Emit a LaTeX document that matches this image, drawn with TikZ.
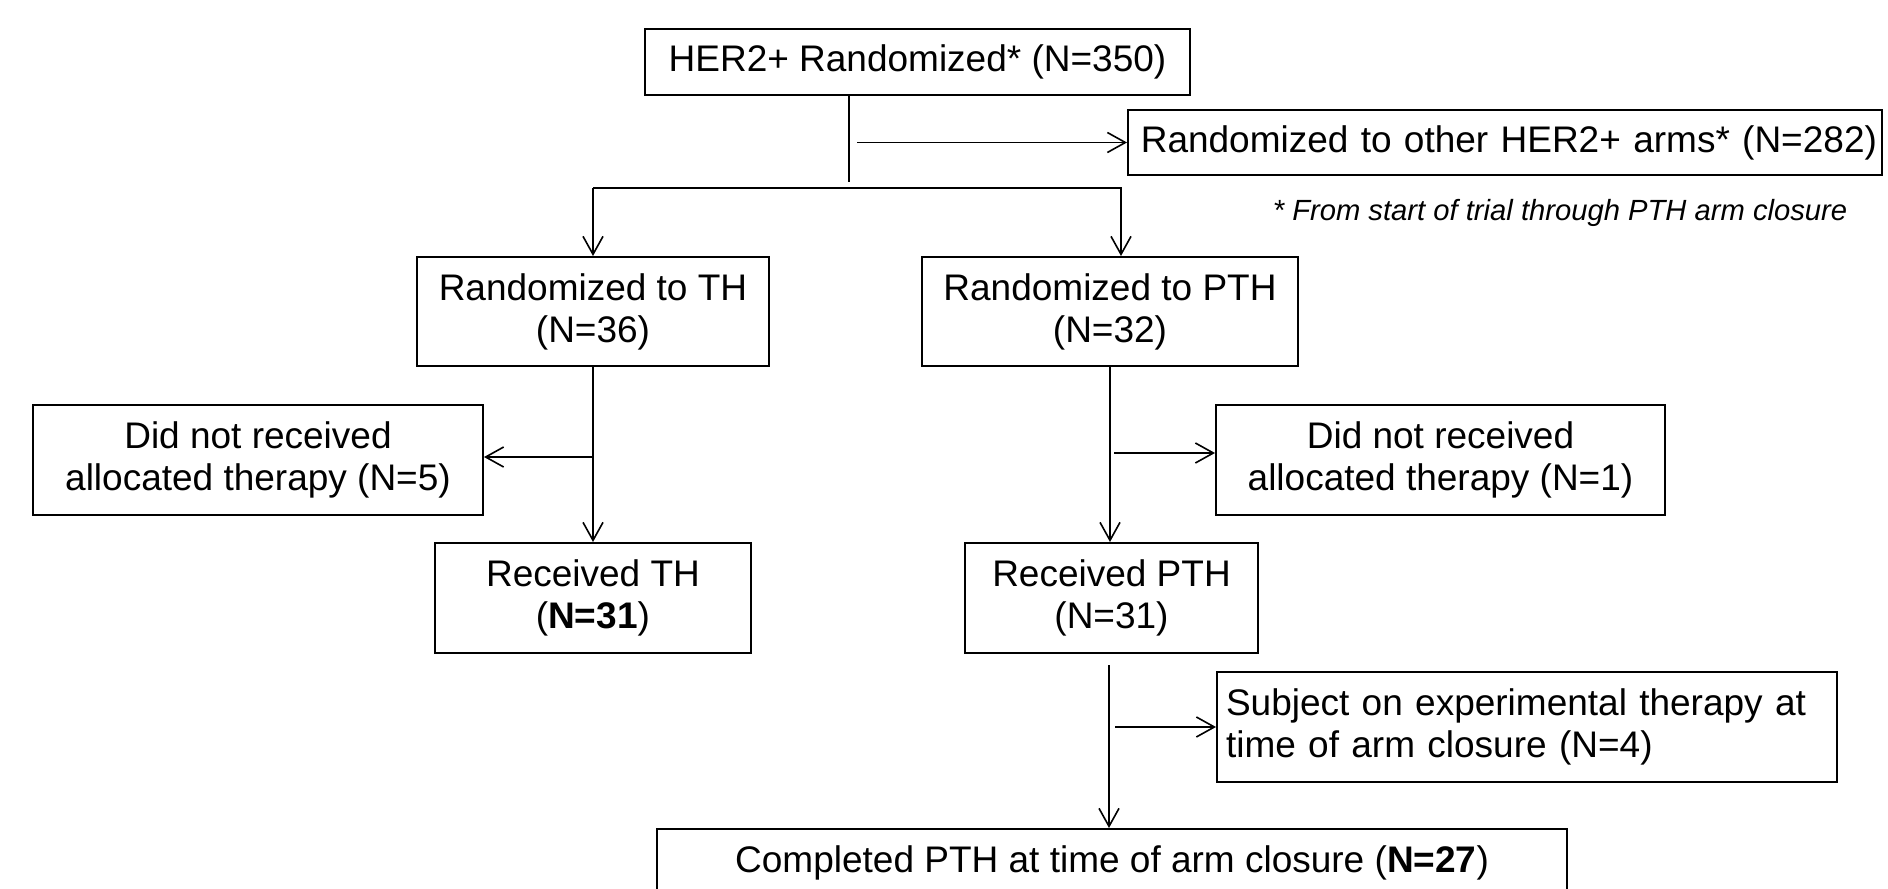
\documentclass[tikz,border=0pt]{standalone}
\usepackage{fontspec}
\setmainfont{Liberation Sans}
\usetikzlibrary{arrows.meta}

\begin{document}
\begin{tikzpicture}[
    x=0.5pt,y=-0.5pt,
    box/.style={draw, line width=1pt, inner sep=2pt, align=center,
      font=\fontsize{18.5}{21}\selectfont},
    line/.style={line width=0.8pt},
    arr/.style={line width=0.8pt, -{Straight Barb[length=9pt,width=10pt,line width=0.8pt]}}
    ]
    \useasboundingbox (0,0) rectangle (1888,888);
    \clip (0,0) rectangle (1888,888);
    \node[box, minimum width=272.5pt, minimum height=33pt] (rand) at (917.5, 62) {HER2+ Randomized* (N=350)};
    \node[box, align=right, text width=372pt, inner xsep=2.5pt, minimum height=32.5pt] (other) at (1505, 142.5) {Randomized to other HER2+ arms* (N=282)};
    \node[font=\fontsize{14.6}{16}\selectfont\itshape] (note) at (1560, 213) {* From start of trial through PTH arm closure};
    \node[box, minimum width=176pt, minimum height=54.5pt] (th) at (593, 311.5) {Randomized to TH\\(N=36)};
    \node[box, minimum width=188pt, minimum height=54.5pt] (pth) at (1110, 311.5) {Randomized to PTH\\(N=32)};
    \node[box, minimum width=225pt, minimum height=55pt] (noth) at (258, 460) {Did not received\\allocated therapy (N=5)};
    \node[box, minimum width=158pt, minimum height=55pt] (recth) at (593, 598) {Received TH\\(\textbf{N=31})};
    \node[box, minimum width=224.5pt, minimum height=55pt] (nopth) at (1440.5, 460) {Did not received\\allocated therapy (N=1)};
    \node[box, minimum width=146.5pt, minimum height=55pt] (recpth) at (1111.5, 598) {Received PTH\\(N=31)};
    \node[box, align=left, text width=301pt, inner xsep=4.5pt, minimum height=55pt] (subj) at (1527, 727) {Subject on experimental therapy at\\time of arm closure (N=4)};
    \node[box, minimum width=455pt, minimum height=34pt] (done) at (1112, 863) {Completed PTH at time of arm closure (\textbf{N=27})};
    \coordinate (stub) at (849, 182);
    \coordinate (fork) at (849, 188);
    \coordinate (low) at (1109, 665);
    \draw[line] (rand.south -| stub) -- (stub);
    \draw[arr] ([xshift=4pt]stub |- other.west) -- (other.west);
    \draw[arr] (fork -| th.north) -- (th.north);
    \draw[arr] (fork -| th.north) -| ([xshift=5.5pt]pth.north);
    \draw[arr] (th.south) -- (recth.north);
    \draw[arr] ([yshift=1.5pt]th.south |- noth.east) -- ([yshift=1.5pt]noth.east);
    \draw[arr] (pth.south) -- (pth.south |- recpth.north);
    \draw[arr] ([xshift=2pt, yshift=3.5pt]pth.south |- nopth.west) -- ([yshift=3.5pt]nopth.west);
    \draw[arr] (low) -- (low |- done.north);
    \draw[arr] ([xshift=3pt]low |- subj.west) -- (subj.west);
  \end{tikzpicture}
\end{document}
